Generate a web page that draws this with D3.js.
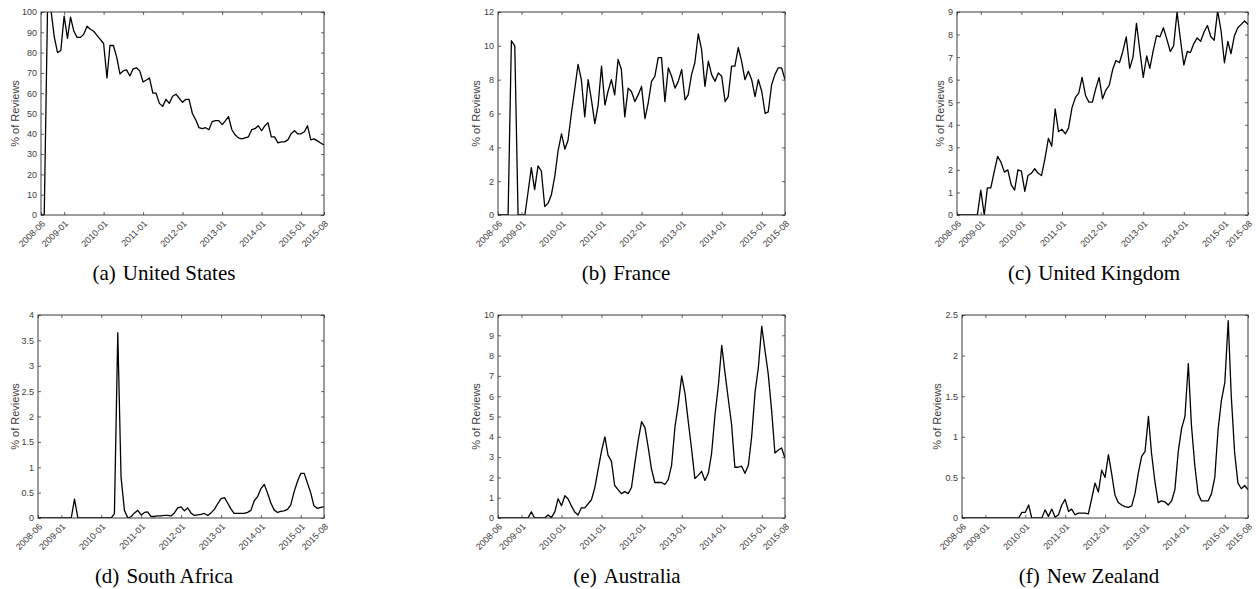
<!DOCTYPE html>
<html lang="en">
<head>
    <meta charset="UTF-8">
    <title>% of Reviews by Country</title>
    <script src="https://cdn.jsdelivr.net/npm/d3@7"></script>
    <style>
        body { margin: 0; background: #fff; }
        .tick text { font-family: "Liberation Sans", Arial, sans-serif; font-size: 9px; fill: #404040; }
        .tick line { stroke: #262626; stroke-width: 0.7; }
        .ylabel { font-family: "Liberation Sans", Arial, sans-serif; font-size: 11px; fill: #404040; }
        .caption { font-family: "Liberation Serif", "Times New Roman", serif; font-size: 21px; fill: #000; }
    </style>
</head>
<body>
<div id="chart"></div>

<script>
    // monthly series, 2008-06 .. 2015-08
    const xTickLabels = ["2008-06", "2009-01", "2010-01", "2011-01", "2012-01",
        "2013-01", "2014-01", "2015-01", "2015-08"];

    const us = [0, 0, 104, 101, 88, 80, 81, 98, 87, 97.5,
        90.5, 87.5, 87.5, 89, 93, 91.5, 90.5, 88.5, 86.5, 84.5,
        67.5, 83.5, 83.5, 78, 69.5, 71, 71.5, 68.5, 72, 72.5,
        71, 65.5, 66.5, 67.5, 60, 60, 55, 53.5, 57, 55,
        58.5, 59.5, 57.5, 55.5, 57, 57, 50, 47, 43, 42.5,
        43, 42, 46, 46.5, 46.5, 44.5, 46.5, 48.5, 42, 39.5,
        38, 37.5, 38, 38.5, 42, 42.5, 44, 41.5, 44, 45.5,
        38.5, 38.5, 35.5, 36, 36, 37, 40, 41.5, 40, 40,
        41, 44, 37, 37.5, 36.5, 35.5, 34.5];

    const france = [0, 0, 0, 0, 10.3, 10.0, 0, 0, 0, 1.3,
        2.8, 1.5, 2.9, 2.6, 0.5, 0.7, 1.2, 2.3, 3.8, 4.8,
        3.9, 4.4, 6.0, 7.4, 8.9, 8.0, 5.8, 8.0, 6.8, 5.4,
        6.5, 8.8, 6.5, 7.3, 8.0, 7.1, 9.2, 8.6, 5.8, 7.5,
        7.3, 6.7, 7.1, 7.6, 5.7, 6.6, 7.9, 8.2, 9.3, 9.3,
        6.7, 8.7, 8.2, 7.5, 7.9, 8.6, 6.8, 7.1, 8.3, 9.0,
        10.7, 9.8, 7.6, 9.1, 8.3, 7.9, 8.4, 8.2, 6.7, 7.0,
        8.8, 8.8, 9.9, 9.1, 8.0, 8.5, 8.0, 7.0, 8.0, 7.3,
        6.0, 6.1, 7.7, 8.3, 8.7, 8.7, 8.0];

    const uk = [0, 0, 0, 0, 0, 0, 0, 1.1, 0, 1.2,
        1.2, 1.9, 2.6, 2.35, 1.9, 2.0, 1.35, 1.1, 2.0, 1.95,
        1.05, 1.75, 1.85, 2.05, 1.85, 1.75, 2.5, 3.4, 3.05, 4.7,
        3.7, 3.8, 3.6, 3.85, 4.75, 5.2, 5.4, 6.1, 5.3, 5.0,
        5.0, 5.6, 6.1, 5.15, 5.55, 5.75, 6.45, 6.85, 6.75, 7.25,
        7.9, 6.5, 7.0, 8.5, 7.3, 6.1, 7.05, 6.5, 7.3, 7.95,
        7.9, 8.3, 7.8, 7.25, 7.5, 9.0, 7.8, 6.65, 7.25, 7.2,
        7.6, 7.85, 7.7, 8.1, 8.4, 7.9, 7.75, 9.05, 8.2, 6.75,
        7.7, 7.15, 7.95, 8.3, 8.45, 8.6, 8.45];

    const southAfrica = [0, 0, 0, 0, 0, 0, 0, 0, 0, 0,
        0, 0.37, 0, 0, 0, 0, 0, 0, 0, 0,
        0, 0, 0, 0.08, 3.65, 0.8, 0.15, 0.0, 0.03, 0.1,
        0.15, 0.06, 0.11, 0.12, 0.03, 0.03, 0.04, 0.04, 0.05, 0.05,
        0.04, 0.1, 0.2, 0.22, 0.14, 0.2, 0.1, 0.05, 0.06, 0.07,
        0.09, 0.05, 0.1, 0.17, 0.28, 0.38, 0.4, 0.3, 0.18, 0.09,
        0.09, 0.09, 0.09, 0.11, 0.15, 0.34, 0.42, 0.58, 0.66, 0.5,
        0.3, 0.16, 0.11, 0.13, 0.14, 0.17, 0.26, 0.52, 0.72, 0.88,
        0.88, 0.7, 0.5, 0.24, 0.19, 0.21, 0.22];

    const australia = [0, 0, 0, 0, 0, 0, 0, 0, 0, 0,
        0.3, 0, 0, 0, 0, 0.15, 0.02, 0.3, 0.95, 0.6,
        1.1, 0.95, 0.6, 0.3, 0.15, 0.5, 0.5, 0.7, 0.9, 1.5,
        2.4, 3.3, 4.0, 3.1, 2.8, 1.6, 1.4, 1.2, 1.3, 1.2,
        1.5, 2.7, 3.8, 4.75, 4.45, 3.5, 2.4, 1.75, 1.75, 1.75,
        1.65, 1.9, 2.6, 4.5, 5.6, 7.0, 6.1, 4.8, 3.4, 1.95,
        2.1, 2.3, 1.85, 2.2, 3.2, 5.1, 6.5, 8.5, 7.1, 5.9,
        4.6, 2.5, 2.5, 2.55, 2.2, 2.6, 4.0, 6.2, 7.4, 9.45,
        8.2, 7.1, 5.3, 3.2, 3.35, 3.45, 2.95];

    const newZealand = [0, 0, 0, 0, 0, 0, 0, 0, 0, 0,
        0, 0, 0, 0, 0, 0, 0, 0, 0.07, 0.07,
        0.16, 0, 0, 0, 0, 0.1, 0.02, 0.11, 0.01, 0.04,
        0.16, 0.23, 0.08, 0.11, 0.04, 0.06, 0.06, 0.06, 0.05, 0.24,
        0.43, 0.32, 0.59, 0.5, 0.78, 0.55, 0.28, 0.19, 0.16, 0.14,
        0.13, 0.15, 0.3, 0.56, 0.76, 0.82, 1.25, 0.8, 0.45, 0.19,
        0.21, 0.2, 0.16, 0.21, 0.35, 0.82, 1.1, 1.25, 1.9, 1.15,
        0.65, 0.3, 0.21, 0.21, 0.21, 0.3, 0.5, 1.1, 1.45, 1.67,
        2.43, 1.5, 0.8, 0.43, 0.36, 0.4, 0.35];

    const usTicks = [0, 10, 20, 30, 40, 50, 60, 70, 80, 90, 100];
    const franceTicks = [0, 2, 4, 6, 8, 10, 12];
    const ukTicks = [0, 1, 2, 3, 4, 5, 6, 7, 8, 9];
    const southAfricaTicks = [0, 0.5, 1, 1.5, 2, 2.5, 3, 3.5, 4];
    const australiaTicks = [0, 1, 2, 3, 4, 5, 6, 7, 8, 9, 10];
    const newZealandTicks = [0, 0.5, 1, 1.5, 2, 2.5];

    const tags = ["(a)", "(b)", "(c)", "(d)", "(e)", "(f)"];
    const countries = ["United States", "France", "United Kingdom", "South Africa", "Australia", "New Zealand"];
    const seriesList = [us, france, uk, southAfrica, australia, newZealand];
    const tickList = [usTicks, franceTicks, ukTicks, southAfricaTicks, australiaTicks, newZealandTicks];

    // plot boxes (pixels), picked to line up with the original figure
    const layout = [
        {left: 41, right: 324, top: 12, bottom: 215, labelX: 15, capX: 164, capY: 280},
        {left: 498, right: 785, top: 12, bottom: 215, labelX: 476, capX: 626, capY: 280},
        {left: 957, right: 1248, top: 12, bottom: 215, labelX: 940, capX: 1094, capY: 280},
        {left: 38, right: 324, top: 315, bottom: 518, labelX: 15, capX: 164, capY: 583},
        {left: 498, right: 785, top: 315, bottom: 518, labelX: 476, capX: 627, capY: 583},
        {left: 962, right: 1248, top: 315, bottom: 518, labelX: 937, capX: 1089, capY: 583}
    ];

    const parseMonth = d3.timeParse("%Y-%m");
    const fmtMonth = d3.timeFormat("%Y-%m");
    const months = d3.timeMonth.range(parseMonth("2008-06"), parseMonth("2015-09"));
    const xTickDates = xTickLabels.map(parseMonth);

    const svg = d3.select("#chart")
        .append("svg")
        .attr("width", 1260)
        .attr("height", 589);

    seriesList.forEach((values, i) => {
        const L = layout[i];
        const ticks = tickList[i];

        const x = d3.scaleTime()
            .domain([months[0], months[months.length - 1]])
            .range([L.left, L.right]);
        const y = d3.scaleLinear()
            .domain([0, ticks[ticks.length - 1]])
            .range([L.bottom, L.top]);

        const g = svg.append("g");

        g.append("clipPath")
            .attr("id", "clip" + i)
            .append("rect")
            .attr("x", L.left)
            .attr("y", L.top)
            .attr("width", L.right - L.left)
            .attr("height", L.bottom - L.top);

        const line = d3.line()
            .x((d, j) => x(months[j]))
            .y(d => y(d));

        g.append("path")
            .datum(values)
            .attr("clip-path", `url(#clip${i})`)
            .attr("fill", "none")
            .attr("stroke", "#000")
            .attr("stroke-width", 1.3)
            .attr("stroke-linejoin", "round")
            .attr("d", line);

        // axes, ticks pointing inward on all four sides
        const xb = g.append("g")
            .attr("transform", `translate(0,${L.bottom})`)
            .call(d3.axisBottom(x).tickValues(xTickDates).tickFormat(fmtMonth)
                .tickSizeInner(-3).tickSizeOuter(0));
        xb.selectAll(".tick text")
            .attr("x", null)
            .attr("y", null)
            .attr("dy", "0.35em")
            .attr("text-anchor", "end")
            .attr("transform", "translate(2,7) rotate(-45)");

        g.append("g")
            .attr("transform", `translate(0,${L.top})`)
            .call(d3.axisTop(x).tickValues(xTickDates).tickFormat("")
                .tickSizeInner(-3).tickSizeOuter(0));

        g.append("g")
            .attr("transform", `translate(${L.left},0)`)
            .call(d3.axisLeft(y).tickValues(ticks).tickFormat(d3.format("~g"))
                .tickSizeInner(-3).tickSizeOuter(0).tickPadding(4));

        g.append("g")
            .attr("transform", `translate(${L.right},0)`)
            .call(d3.axisRight(y).tickValues(ticks).tickFormat("")
                .tickSizeInner(-3).tickSizeOuter(0));

        g.selectAll(".domain").remove();

        g.append("rect")
            .attr("x", L.left)
            .attr("y", L.top)
            .attr("width", L.right - L.left)
            .attr("height", L.bottom - L.top)
            .attr("fill", "none")
            .attr("stroke", "#262626")
            .attr("stroke-width", 0.9);

        g.append("text")
            .attr("class", "ylabel")
            .attr("text-anchor", "middle")
            .attr("transform", `translate(${L.labelX},${(L.top + L.bottom) / 2}) rotate(-90)`)
            .attr("dy", "0.35em")
            .text("% of Reviews");

        const cap = g.append("text")
            .attr("class", "caption")
            .attr("text-anchor", "middle")
            .attr("x", L.capX)
            .attr("y", L.capY);
        cap.append("tspan").text(tags[i]);
        cap.append("tspan").attr("dx", 7).text(countries[i]);
    });
</script>
</body>
</html>
